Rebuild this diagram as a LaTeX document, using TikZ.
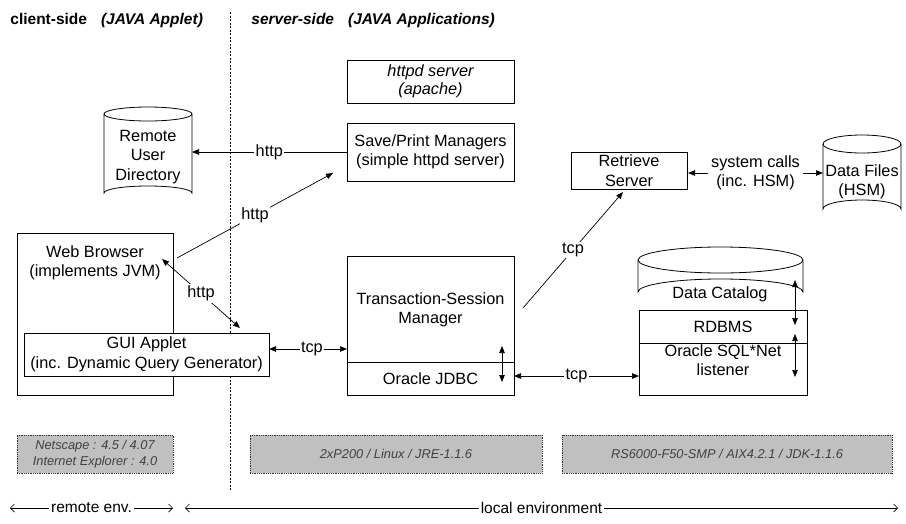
\documentclass[tikz,border=0pt]{standalone}
\usepackage{fontspec}
\setmainfont{Liberation Sans}
\usetikzlibrary{arrows.meta}
\begin{document}
\begin{tikzpicture}[x=1pt,y=-1pt,
  line width=0.8pt,
  >={Triangle[length=7pt,width=5.5pt]},
  mainf/.style={font=\fontsize{16.3}{19.5}\selectfont},
  box/.style={draw, mainf, align=center, inner sep=0pt},
  txt/.style={mainf, align=center, inner sep=0pt},
  lbl/.style={mainf, fill=white, inner sep=1.5pt, align=center},
  conn/.style={line width=0.7pt},
  cyl/.style={line width=0.8pt},
  graybox/.style={draw=black!80, fill={rgb,255:red,192;green,192;blue,192}, densely dotted, line width=0.8pt,
    align=center, inner sep=0pt, text=black!75, font=\fontsize{12.8}{16}\selectfont\itshape},
  titlef/.style={font=\fontsize{15.5}{18}\selectfont\bfseries, inner sep=0pt},
  envarrow/.style={line width=0.7pt, {Straight Barb[length=4pt,width=8pt]}-{Straight Barb[length=4pt,width=8pt]}},
  envlbl/.style={font=\fontsize{15.5}{18}\selectfont, fill=white, inner sep=2pt}
]
\useasboundingbox (0,0) rectangle (906,523);

% titles
\node[titlef, anchor=west] (tclient) at (10,20) {client-side\hspace{14pt}\textit{(JAVA Applet)}};
\node[titlef, anchor=west] (tserver) at (251,20) {\textit{server-side}\hspace{14pt}\textit{(JAVA Applications)}};

% divider
\draw[line width=0.8pt, dash pattern=on 2pt off 1.5pt] (230,12) coordinate (dtop) -- (230,490) coordinate (dbot);

% server boxes
\node[box, minimum width=167, minimum height=43, font=\fontsize{16.3}{17.5}\selectfont\itshape] (httpd) at (430.5,81.5) {httpd server\\(apache)};
\node[box, minimum width=167, minimum height=58] (save) at (430.5,152) {Save/Print Managers\\(simple httpd server)};

\node[box, minimum width=167, minimum height=139] (tsm) at (430.5,325.5) {};
\node[txt] (tsmtxt) at (430.5,310) {Transaction-Session\\Manager};
\node[box, minimum width=167, minimum height=33] (jdbc) at (430.5,378.5) {Oracle JDBC};

\node[box, minimum width=116, minimum height=37] (retr) at (629,170.5) {Retrieve\\Server};

% client boxes
\node[box, minimum width=156, minimum height=162] (web) at (95,314) {};
\node[txt] (webtxt) at (95,263) {Web Browser\\(implements JVM)};
\node[box, fill=white, minimum width=245, minimum height=43] (gui) at (146.5,354.5) {GUI Applet\\(inc. Dynamic Query Generator)};

% RDBMS / SQL*Net
\node[box, minimum width=168, minimum height=33] (rdbms) at (723,326.5) {RDBMS};
\node[box, minimum width=168, minimum height=52] (sqlnet) at (723,369) {};
\node[txt] (sqltxt) at (723,360) {Oracle SQL*Net\\listener};

% cylinders
% Remote User Directory
\draw[cyl] (148,114) ellipse [x radius=44, y radius=7];
\draw[cyl] (104,114) -- (104,193) arc[start angle=180, end angle=360, x radius=44, y radius=7] -- (192,114);
\node[txt] (rud) at (148,157) {Remote\\User\\Directory};
% Data Files
\draw[cyl] (862,144) ellipse [x radius=39, y radius=9];
\draw[cyl] (823,144) -- (823,209) arc[start angle=180, end angle=360, x radius=39, y radius=9] -- (901,144);
\node[txt] (dfiles) at (862,182) {Data Files\\(HSM)};
% Data Catalog
\draw[cyl] (720.5,260) ellipse [x radius=82.5, y radius=13];
\draw[cyl] (638,260) -- (638,292) arc[start angle=180, end angle=360, x radius=82.5, y radius=13] -- (803,260);
\node[txt] (dcat) at (720,294) {Data Catalog};

% connector end points
\coordinate (rudE) at (192,152);
\coordinate (webA) at (177,258);
\coordinate (saveA) at (333,173);
\coordinate (webB) at (162,259);
\coordinate (guiB) at (240,328);
\coordinate (guiE) at (269,349);
\coordinate (tsmW) at (347,349);
\coordinate (tsmR) at (523,308);
\coordinate (retrS) at (623,192);
\coordinate (jdbcE) at (514,376);
\coordinate (sqlW) at (639,376);
\coordinate (jdbcU) at (502,346);
\coordinate (jdbcD) at (502,382);
\coordinate (retrE) at (688,173);
\coordinate (dfW) at (823,173);
\coordinate (catU) at (795,280);
\coordinate (catD) at (795,325);
\coordinate (sqlU) at (795,334);
\coordinate (sqlD) at (795,377);

% connectors
\draw[conn,->] (save.west) -- node[lbl] (l1) {http} (rudE);
\draw[conn,->] (webA) -- node[lbl] (l2) {http} (saveA);
\draw[conn,<->] (webB) -- node[lbl] (l3) {http} (guiB);
\draw[conn,<->] (guiE) -- node[lbl, pos=0.55] (l4) {tcp} (tsmW);
\draw[conn,->] (tsmR) -- node[lbl] (l5) {tcp} (retrS);
\draw[conn,<->] (jdbcE) -- node[lbl] (l6) {tcp} (sqlW);
\draw[conn,<->] (jdbcU) -- (jdbcD);
\draw[conn,<->] (retrE) -- node[lbl, inner sep=3pt] (l7) {system calls\\(inc. HSM)} (dfW);
\draw[conn,<->] (catU) -- (catD);
\draw[conn,<->] (sqlU) -- (sqlD);

% platform boxes
\node[graybox, minimum width=156, minimum height=38] (p1) at (95,454) {Netscape : 4.5 / 4.07\\Internet Explorer : 4.0};
\node[graybox, minimum width=292, minimum height=38] (p2) at (396,454) {2xP200 / Linux / JRE-1.1.6};
\node[graybox, minimum width=330, minimum height=38] (p3) at (727,454) {RS6000-F50-SMP / AIX4.2.1 / JDK-1.1.6};

% environment arrows
\coordinate (remL) at (10,508);
\coordinate (remR) at (173,508);
\coordinate (locL) at (185,508);
\coordinate (locR) at (898,508);
\draw[envarrow] (remL) -- node[envlbl] (remlbl) {remote env.} (remR);
\draw[envarrow] (locL) -- node[envlbl] (loclbl) {local environment} (locR);
\end{tikzpicture}
\end{document}
